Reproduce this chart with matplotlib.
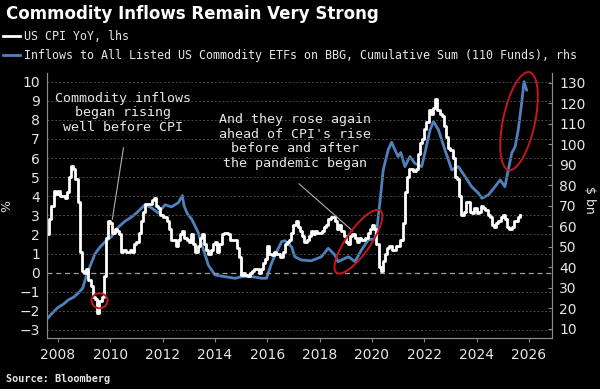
import matplotlib
matplotlib.use('Agg')
import matplotlib.pyplot as plt
import pandas as pd
from matplotlib.patches import Ellipse
from matplotlib.transforms import ScaledTranslation

# US CPI YoY (%), monthly, starting Aug 2007
cpi_start = '2007-08'
cpi_values = [
    2.0, 2.8, 3.5, 4.3, 4.1,
    4.3, 4.0, 4.0, 3.9, 4.2, 5.0, 5.6, 5.4, 4.9, 3.7, 1.1, 0.1,
    0.0, 0.2, -0.4, -0.7, -1.3, -1.4, -2.1, -1.5, -1.3, -0.2, 1.8, 2.7,
    2.6, 2.1, 2.3, 2.2, 2.0, 1.1, 1.2, 1.1, 1.1, 1.2, 1.1, 1.5,
    1.6, 2.1, 2.7, 3.2, 3.6, 3.6, 3.6, 3.8, 3.9, 3.5, 3.4, 3.0,
    2.9, 2.9, 2.7, 2.3, 1.7, 1.7, 1.4, 1.7, 2.0, 2.2, 1.8, 1.7,
    1.6, 2.0, 1.5, 1.1, 1.4, 1.8, 2.0, 1.5, 1.2, 1.0, 1.2, 1.5,
    1.6, 1.1, 1.5, 2.0, 2.1, 2.1, 2.0, 1.7, 1.7, 1.7, 1.3, 0.8,
    -0.1, 0.0, -0.1, -0.2, 0.0, 0.1, 0.2, 0.2, 0.0, 0.2, 0.5, 0.7,
    1.4, 1.0, 0.9, 1.1, 1.0, 1.0, 0.8, 1.1, 1.5, 1.6, 1.7, 2.1,
    2.5, 2.7, 2.4, 2.2, 1.9, 1.6, 1.7, 1.9, 2.2, 2.0, 2.2, 2.1,
    2.1, 2.2, 2.4, 2.5, 2.8, 2.9, 2.9, 2.7, 2.3, 2.5, 2.2, 1.9,
    1.6, 1.5, 1.9, 2.0, 1.8, 1.6, 1.8, 1.7, 1.7, 1.8, 2.1, 2.3,
    2.5, 2.3, 1.5, 0.3, 0.1, 0.6, 1.0, 1.3, 1.4, 1.2, 1.2, 1.4,
    1.4, 1.7, 2.6, 4.2, 5.0, 5.4, 5.4, 5.3, 5.4, 6.2, 6.8, 7.0,
    7.5, 7.9, 8.5, 8.3, 8.6, 9.1, 8.5, 8.3, 8.2, 7.7, 7.1, 6.5,
    6.4, 6.0, 5.0, 4.9, 4.0, 3.0, 3.2, 3.7, 3.7, 3.2, 3.1, 3.4,
    3.1, 3.2, 3.5, 3.4, 3.3, 3.0, 2.9, 2.5, 2.4, 2.6, 2.7, 2.9,
    3.0, 2.8, 2.4, 2.3, 2.4, 2.7, 2.7, 2.9, 3.0,
]

# cumulative ETF inflows ($ bn)
flow_years = [
    2007.63, 2007.8, 2008.0, 2008.2, 2008.4, 2008.6, 2008.8, 2008.95,
    2009.05, 2009.22, 2009.41, 2009.6, 2009.8, 2010.05, 2010.3, 2010.56,
    2010.81, 2011.0, 2011.32, 2011.58, 2011.83, 2012.09, 2012.34, 2012.6,
    2012.75, 2012.82, 2012.95, 2013.11, 2013.36, 2013.55, 2013.75, 2014.0,
    2014.38, 2014.77, 2015.03, 2015.4, 2015.79, 2015.97, 2016.16, 2016.36,
    2016.55, 2016.68, 2016.93, 2017.05, 2017.3, 2017.68, 2018.07, 2018.33,
    2018.58, 2018.7, 2019.1, 2019.35, 2019.6, 2019.86, 2020.11, 2020.2,
    2020.3, 2020.43, 2020.62, 2020.75, 2020.88, 2021.0, 2021.1, 2021.26,
    2021.45, 2021.64, 2021.9, 2022.02, 2022.22, 2022.35, 2022.54, 2022.79,
    2023.05, 2023.3, 2023.56, 2023.81, 2024.07, 2024.2, 2024.45, 2024.7,
    2024.9, 2025.08, 2025.21, 2025.34, 2025.47, 2025.59, 2025.72, 2025.81,
    2025.91,
]
flow_values = [
    15.5, 18.0, 20.5, 22.0, 24.2, 25.5, 27.8, 30.0,
    34.5, 40.4, 46.5, 49.8, 52.5, 55.0, 59.5, 62.5,
    64.5, 66.5, 70.5, 69.0, 66.5, 70.5, 69.5, 71.5,
    75.0, 70.0, 66.0, 63.5, 57.0, 49.0, 41.0, 36.3,
    35.5, 34.7, 35.5, 35.5, 34.7, 34.7, 42.0, 47.7,
    52.6, 53.0, 50.0, 45.2, 43.6, 43.2, 45.2, 49.3,
    46.1, 42.8, 45.2, 42.8, 48.5, 53.4, 54.0, 60.0,
    71.3, 87.5, 97.2, 101.0, 97.2, 94.0, 96.0, 89.1,
    94.0, 90.7, 89.1, 95.6, 107.0, 111.0, 107.0, 97.2,
    87.5, 89.1, 84.2, 79.3, 76.1, 73.7, 75.3, 79.3,
    82.6, 79.3, 87.5, 95.6, 98.8, 107.0, 120.0, 130.5,
    126.4,
]

x_ticks = list(range(2008, 2027, 2))
left_ticks = list(range(-3, 11))
right_ticks = list(range(10, 131, 10))

dates = pd.date_range(cpi_start, periods=len(cpi_values), freq='MS')
cpi_x = dates.year + (dates.month - 1) / 12

mono = 'DejaVu Sans Mono'
txt = '#e6e6e6'
grey = '#8a8a8a'

fig = plt.figure(figsize=(6, 3.89), dpi=100, facecolor='black')
ax = fig.add_axes([0.0783, 0.1311, 0.8417, 0.6812])
ax2 = ax.twinx()
ax.set_zorder(ax2.get_zorder() + 1)
ax.patch.set_visible(False)
ax2.set_facecolor('black')

ax2.plot(flow_years, flow_values, color='#4f81bd', lw=2.0, solid_joinstyle='round',
         label='Inflows to All Listed US Commodity ETFs on BBG, Cumulative Sum (110 Funds), rhs')
ax.plot(cpi_x, cpi_values, color='white', lw=2.0, drawstyle='steps-post',
        label='US CPI YoY, lhs')

ax.set_xlim(2007.58, 2026.88)
ax.set_ylim(-3.42, 10.45)
ax2.set_ylim(5.6, 134.7)
ax.set_xticks(x_ticks)
ax.set_yticks(left_ticks)
ax2.set_yticks(right_ticks)

for t in left_ticks:
    if t == 0:
        ax.axhline(0, color='#a0a0a0', lw=0.9, ls=(0, (4, 3)), zorder=0)
    else:
        ax.axhline(t, color='#4a4a4a', lw=0.7, ls=(0, (2, 2)), zorder=0)

for a in (ax, ax2):
    a.spines['top'].set_visible(False)
    for s in ('left', 'right', 'bottom'):
        a.spines[s].set_color(grey)
ax.tick_params(axis='x', direction='out', length=3, color=grey, labelcolor=txt,
               labelsize=10, pad=4)
ax.tick_params(axis='y', length=0, labelcolor=txt, labelsize=10, pad=5)
ax2.tick_params(axis='y', direction='in', length=3, color=grey, labelcolor=txt,
                labelsize=10, pad=5)

ax.set_ylabel('%', color=txt, fontsize=9)
ax.yaxis.set_label_coords(-0.067, 0.5)
ax2.set_ylabel('$ bn', color=txt, fontsize=9, rotation=270, va='center')
ax2.yaxis.set_label_coords(1.075, 0.52)

# callouts
ax.text(2010.48, 8.36, 'Commodity inflows\nbegan rising\nwell before CPI',
        family=mono, fontsize=9.6, color=txt, ha='center', va='center',
        linespacing=1.15)
ax.text(2017.06, 6.87, "And they rose again\nahead of CPI's rise\nbefore and after\nthe pandemic began",
        family=mono, fontsize=9.6, color=txt, ha='center', va='center',
        linespacing=1.15)
ax.annotate('', xy=(2010.06, 2.65), xytext=(2010.52, 6.69),
            arrowprops=dict(arrowstyle='-', color='#b0b0b0', lw=0.8))
ax.annotate('', xy=(2019.35, 2.08), xytext=(2017.13, 4.75),
            arrowprops=dict(arrowstyle='-', color='#b0b0b0', lw=0.8))

# red rings, sized in inches, anchored at data points
rings = [
    (ax, 2009.59, -1.47, 0.16, 0.15, 0),
    (ax, 2019.48, 1.62, 0.76, 0.24, 55),
    (ax2, 2025.62, 111.3, 1.0, 0.32, 78),
]
for a, x, y, w, h, ang in rings:
    tr = fig.dpi_scale_trans + ScaledTranslation(x, y, a.transData)
    e = Ellipse((0, 0), w, h, angle=ang, transform=tr, fill=False,
                edgecolor='#c8161d', lw=1.4, clip_on=False, zorder=5)
    ax.add_artist(e)

fig.text(0.01, 0.965, 'Commodity Inflows Remain Very Strong', color='white',
         fontsize=12, fontweight='bold', va='center', ha='left')

h1, l1 = ax.get_legend_handles_labels()
h2, l2 = ax2.get_legend_handles_labels()
fig.legend(h1 + h2, l1 + l2, loc='upper left', bbox_to_anchor=(0.0, 0.932),
           frameon=False, prop={'family': mono, 'size': 8.4}, labelcolor=txt,
           handlelength=1.4, handletextpad=0.4, labelspacing=0.5,
           borderpad=0.0, borderaxespad=0.3)

fig.text(0.01, 0.025, 'Source: Bloomberg', color=txt, fontsize=7.3,
         family=mono, fontweight='bold', va='center', ha='left')

fig.savefig('out.png', dpi=100, facecolor='black')
